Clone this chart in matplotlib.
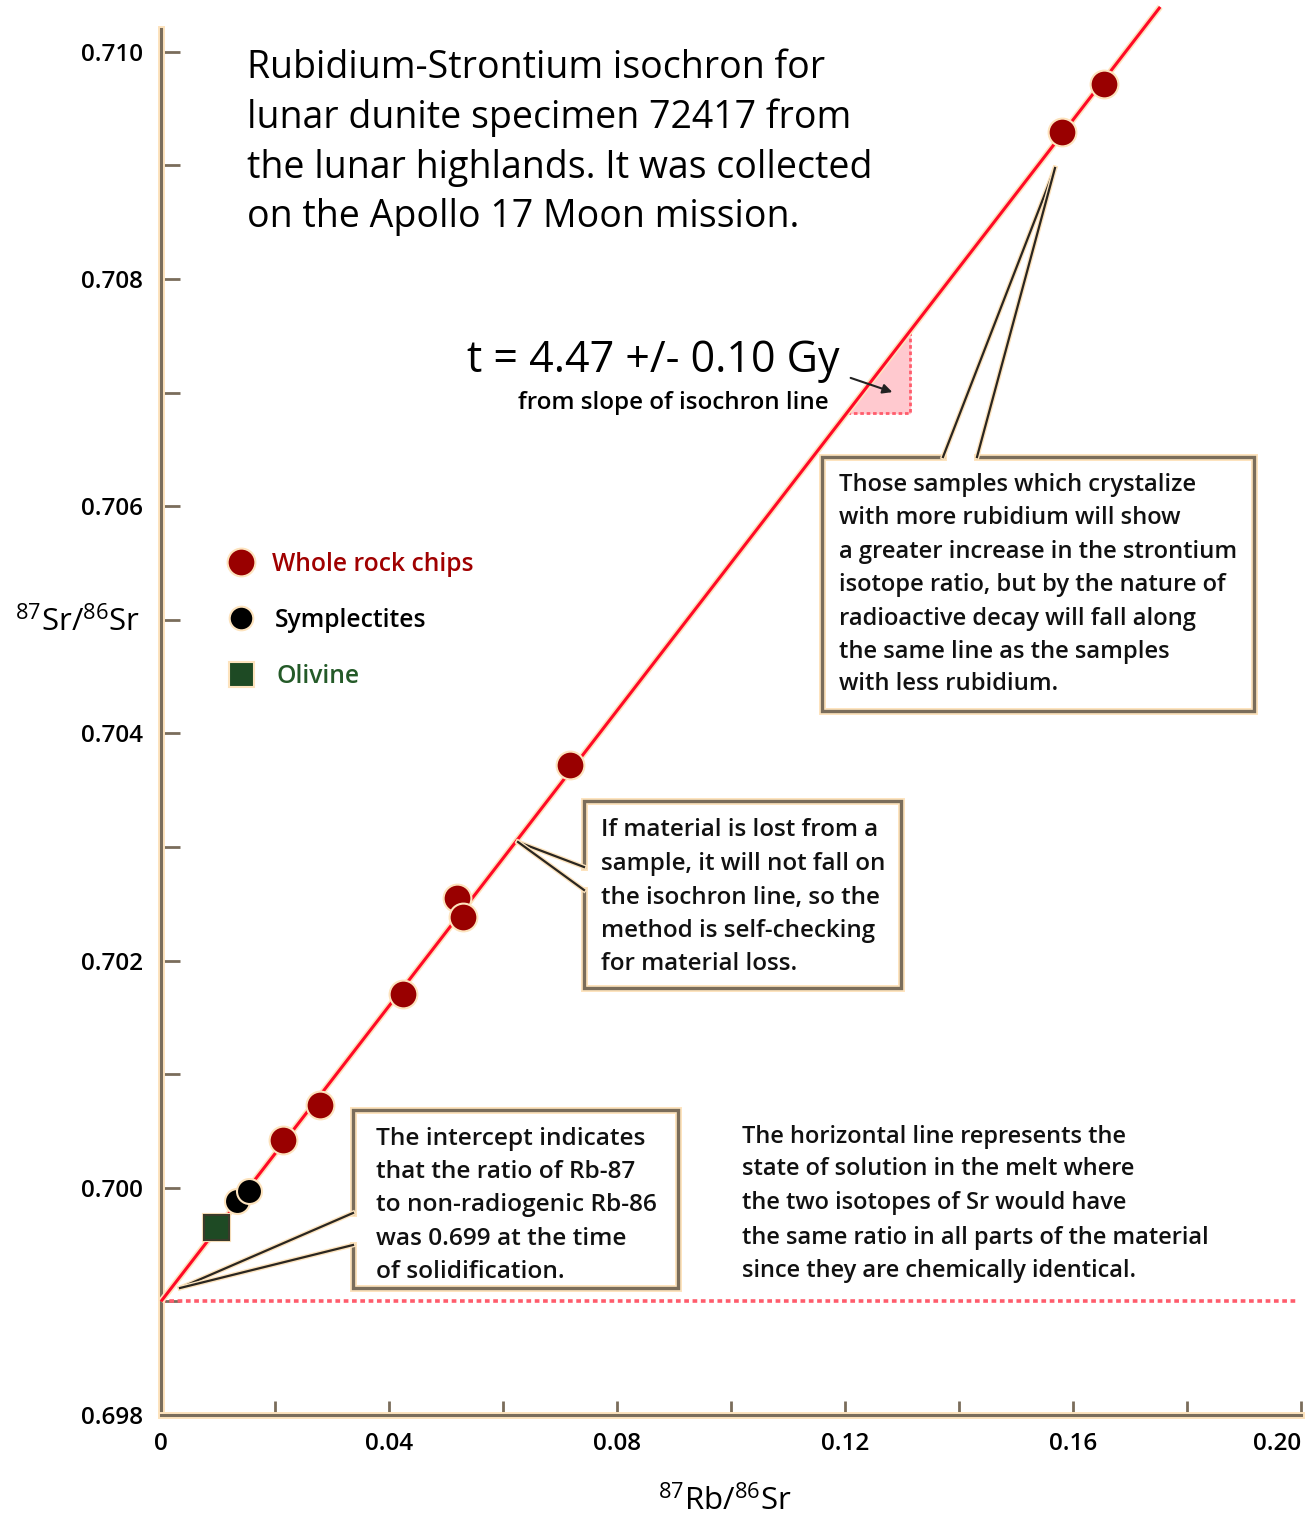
import numpy as np
import matplotlib.pyplot as plt
import matplotlib.patheffects as pe
from matplotlib.lines import Line2D
from matplotlib.patches import Rectangle

plt.rcParams['font.family'] = ['Open Sans', 'DejaVu Sans']
plt.rcParams['mathtext.default'] = 'regular'

# 87Rb/86Sr vs 87Sr/86Sr for the three sample types
rock_rb = [0.0214, 0.0279, 0.0425, 0.0519, 0.0530, 0.0718, 0.1581, 0.1654]
rock_sr = [0.70042, 0.70073, 0.70171, 0.70255, 0.70238, 0.70372, 0.70929, 0.70972]
sympl_rb = [0.0133, 0.0154]
sympl_sr = [0.69988, 0.69997]
olivine_rb = [0.0097]
olivine_sr = [0.69965]

# isochron fit
intercept = 0.699
slope = 0.065
line_x_end = 0.1753

x_ticks = np.round(np.arange(0, 0.2001, 0.02), 3)
x_labels = ['0', '', '0.04', '', '0.08', '', '0.12', '', '0.16', '', '0.20']
y_ticks = np.round(np.arange(0.698, 0.7101, 0.001), 3)
y_labels = ['0.698', '', '0.700', '', '0.702', '', '0.704', '', '0.706', '', '0.708', '', '0.710']

W, H = 1306, 1518
AXIS = '#7a6d5b'
HALO = '#fde3bd'
halo = [pe.Stroke(linewidth=5, foreground=HALO), pe.Normal()]


def fx(px):
    return px / W


def fy(py):
    return 1 - py / H


fig = plt.figure(figsize=(W / 100, H / 100), dpi=100)
ax = fig.add_axes([fx(161), fy(1415), fx(1301) - fx(161), fy(29) - fy(1415)])
ax.set_xlim(0, 0.2)
ax.set_ylim(0.698, 0.7102)

for s in ['top', 'right']:
    ax.spines[s].set_visible(False)
for s in ['left', 'bottom']:
    ax.spines[s].set_color(AXIS)
    ax.spines[s].set_linewidth(2.2)
    ax.spines[s].set_path_effects(halo)

ax.set_xticks(x_ticks)
ax.set_xticklabels(x_labels)
ax.set_yticks(y_ticks)
ax.set_yticklabels(y_labels)
ax.tick_params(axis='x', direction='in', length=10, width=2, color=AXIS, pad=12, labelsize=17.5)
ax.tick_params(axis='y', direction='in', length=14, width=2, color=AXIS, pad=13, labelsize=17.5)
ax.get_xticklabels()[-1].set_ha('right')
for t in ax.get_xticklabels() + ax.get_yticklabels():
    t.set_fontweight('semibold')

# isochron and initial ratio
lx = np.array([0, line_x_end])
ax.plot(lx, intercept + slope * lx, color='#ff0a26', lw=2.2, clip_on=False,
        solid_capstyle='butt', path_effects=[pe.Stroke(linewidth=4.5, foreground=HALO), pe.Normal()], zorder=3)
ax.plot([0, 0.1995], [intercept, intercept], color='#ff5c6c', lw=2.6,
        linestyle=(0, (1.3, 1.0)), zorder=2)

# slope triangle
tri_y = 0.70682
tri_x = 0.1314
tri_x0 = (tri_y - intercept) / slope
tri_y1 = intercept + slope * tri_x
ax.fill([tri_x0, tri_x, tri_x], [tri_y, tri_y, tri_y1], color='#ffc9cf', zorder=2)
ax.plot([tri_x0, tri_x, tri_x], [tri_y, tri_y, tri_y1], color='#ff5c6c', lw=2,
        linestyle=(0, (1.3, 1.0)), zorder=2)

# samples
ax.plot(rock_rb, rock_sr, 'o', ms=20, color='#990000', mec=HALO, mew=1.5, zorder=5)
ax.plot(sympl_rb, sympl_sr, 'o', ms=18, color='black', mec=HALO, mew=1.5, zorder=5)
ax.plot(olivine_rb, olivine_sr, 's', ms=18, color='#1e4a24', mec='#3a3a2a', mew=1.5, zorder=5,
        path_effects=[pe.Stroke(linewidth=3, foreground=HALO), pe.Normal()])

# legend
legend_rows = [('Whole rock chips', '#a00000', 'o', 20, '#990000', 562, 272),
               ('Symplectites', 'black', 'o', 17, 'black', 618, 275),
               ('Olivine', '#245a28', 's', 18, '#1e4a24', 674, 277)]
for label, tcol, mk, ms, mcol, py, tx in legend_rows:
    fig.add_artist(Line2D([fx(241)], [fy(py)], marker=mk, ms=ms, color=mcol,
                          mec=HALO, mew=1.5, linestyle='none'))
    fig.text(fx(tx), fy(py + 9), label, color=tcol, fontsize=17.7, va='baseline', fontweight='semibold')

# axis titles
fig.text(fx(78), fy(622), r'$^{87}$Sr/$^{86}$Sr', fontsize=22.5, ha='center', va='center')
fig.text(fx(725), fy(1510), r'$^{87}$Rb/$^{86}$Sr', fontsize=22.5, ha='center', va='baseline')


def put_lines(px, baselines, lines, size, **kw):
    for py, s in zip(baselines, lines):
        fig.text(fx(px), fy(py), s, fontsize=size, va='baseline', **kw)


put_lines(247, [78, 128, 178, 227],
          ['Rubidium-Strontium isochron for',
           'lunar dunite specimen 72417 from',
           'the lunar highlands. It was collected',
           'on the Apollo 17 Moon mission.'], 27, fontweight='medium')

fig.text(fx(467), fy(372), 't = 4.47 +/- 0.10 Gy', fontsize=31, va='baseline', fontweight='medium')
fig.text(fx(518), fy(409), 'from slope of isochron line', fontsize=17.4, va='baseline',
         fontweight='semibold')
ax.annotate('', xy=(fx(895), fy(393)), xytext=(fx(848), fy(377)),
            xycoords='figure fraction', textcoords='figure fraction',
            arrowprops=dict(arrowstyle='-|>', color='#222222', lw=1.5, mutation_scale=14))


def callout(x0, y0, x1, y1, edge, tip, leads):
    fig.add_artist(Rectangle((fx(x0), fy(y1)), fx(x1) - fx(x0), fy(y0) - fy(y1),
                             transform=fig.transFigure, facecolor='white', edgecolor='none', zorder=6))
    ex, ey = zip(*edge)
    fig.add_artist(Line2D([fx(v) for v in ex], [fy(v) for v in ey], color=AXIS, lw=2.4,
                          solid_joinstyle='miter', path_effects=halo, zorder=7))
    for lx0, ly0 in leads:
        fig.add_artist(Line2D([fx(lx0), fx(tip[0])], [fy(ly0), fy(tip[1])], color='#2a2620', lw=1.6,
                              path_effects=[pe.Stroke(linewidth=3.5, foreground=HALO), pe.Normal()], zorder=7))


callout(822, 457, 1254, 711,
        [(943, 457), (822, 457), (822, 711), (1254, 711), (1254, 457), (977, 457)],
        (1055, 168), [(943, 457), (977, 457)])
callout(584, 801, 901, 988,
        [(584, 867), (584, 801), (901, 801), (901, 988), (584, 988), (584, 890)],
        (518, 842), [(584, 867), (584, 890)])
callout(353, 1110, 678, 1288,
        [(353, 1213), (353, 1110), (678, 1110), (678, 1288), (353, 1288), (353, 1245)],
        (180, 1288), [(353, 1213), (353, 1245)])

box_kw = dict(zorder=8, color='#111111', fontweight='semibold')
put_lines(839, [491, 524, 558, 591, 625, 658, 690],
          ['Those samples which crystalize',
           'with more rubidium will show',
           'a greater increase in the strontium',
           'isotope ratio, but by the nature of',
           'radioactive decay will fall along',
           'the same line as the samples',
           'with less rubidium.'], 17.1, **box_kw)
put_lines(601, [836, 870, 904, 937, 970],
          ['If material is lost from a',
           'sample, it will not fall on',
           'the isochron line, so the',
           'method is self-checking',
           'for material loss.'], 17.4, **box_kw)
put_lines(376, [1145, 1178, 1211, 1245, 1278],
          ['The intercept indicates',
           'that the ratio of Rb-87',
           'to non-radiogenic Rb-86',
           'was 0.699 at the time',
           'of solidification.'], 17.6, **box_kw)
put_lines(742, [1143, 1175, 1209, 1244, 1277],
          ['The horizontal line represents the',
           'state of solution in the melt where',
           'the two isotopes of Sr would have',
           'the same ratio in all parts of the material',
           'since they are chemically identical.'], 17.0, color='#111111', fontweight='semibold')

fig.savefig('out.png', dpi=100)
